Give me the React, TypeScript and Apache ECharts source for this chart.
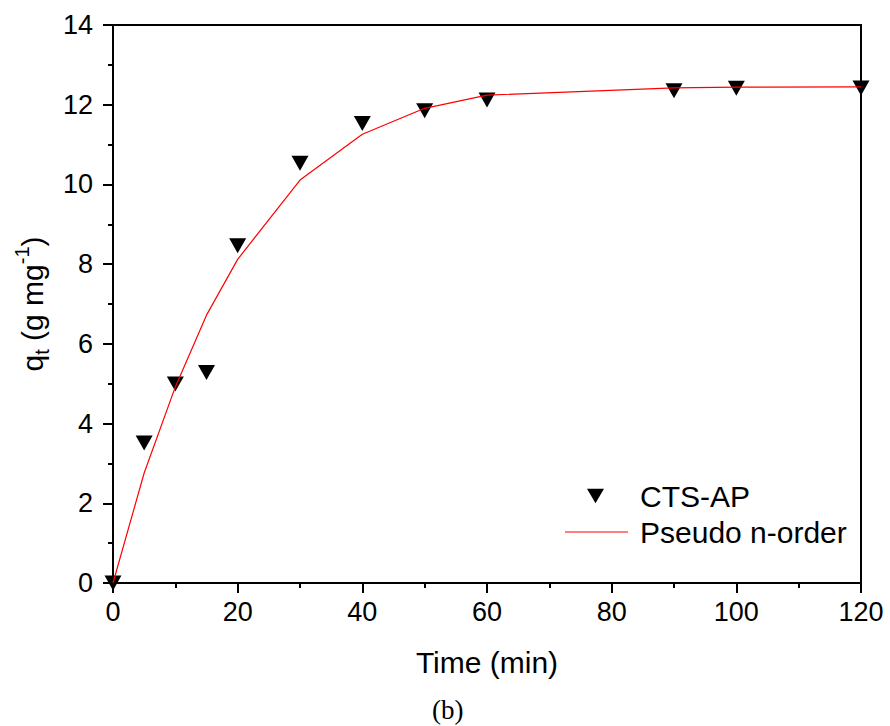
import React, { useEffect, useRef } from "react";
import * as echarts from "echarts";

const expTime = [0, 5, 10, 15, 20, 30, 40, 50, 60, 90, 100, 120];
const expQt = [0, 3.51, 4.99, 5.28, 8.46, 10.53, 11.53, 11.85, 12.12, 12.35, 12.41, 12.42];
const fitTime = [0, 5, 10, 15, 20, 30, 40, 50, 60, 90, 100, 120];
const fitQt = [0, 2.76, 4.92, 6.72, 8.12, 10.11, 11.26, 11.91, 12.24, 12.42, 12.44, 12.45];
const seriesNames = ["CTS-AP", "Pseudo n-order"];
const xTitle = "Time (min)";
const caption = "(b)";

const FONT = "'Liberation Sans', Arial, sans-serif";

export default function App() {
  const ref = useRef<HTMLDivElement>(null);
  useEffect(() => {
    if (!ref.current) return;
    const chart = echarts.init(ref.current, null, { renderer: "svg" });
    const triPath = "path://M0,0 L20,0 L10,17 Z";
    chart.setOption({
      animation: false,
      backgroundColor: "#ffffff",
      grid: {
        left: 113,
        right: 29,
        top: 25,
        bottom: 143,
        show: true,
        borderColor: "#000",
        borderWidth: 2,
        backgroundColor: "transparent",
      },
      legend: [
        {
          data: [{ name: seriesNames[0], icon: triPath }],
          left: 582,
          top: 476,
          itemWidth: 17,
          itemHeight: 15,
          itemStyle: { opacity: 1 },
          textStyle: { fontFamily: FONT, fontSize: 30, color: "#000", padding: [0, 0, 0, 31] },
        },
        {
          data: [{ name: seriesNames[1], icon: "rect" }],
          left: 560,
          top: 512,
          itemWidth: 63,
          itemHeight: 1.2,
          textStyle: { fontFamily: FONT, fontSize: 30, color: "#000", padding: [0, 0, 0, 7] },
        },
      ],
      xAxis: {
        type: "value",
        min: 0,
        max: 120,
        interval: 20,
        name: xTitle,
        nameLocation: "middle",
        nameGap: 64,
        nameTextStyle: { fontFamily: FONT, fontSize: 30, color: "#000" },
        axisLine: { show: true, onZero: false, lineStyle: { color: "#000", width: 2 } },
        axisTick: { show: true, inside: false, length: 10, lineStyle: { color: "#000", width: 2 } },
        minorTick: { show: true, splitNumber: 2, length: 5, lineStyle: { color: "#000", width: 2 } },
        axisLabel: { fontFamily: FONT, fontSize: 27, color: "#000", margin: 15 },
        splitLine: { show: false },
      },
      yAxis: {
        type: "value",
        min: 0,
        max: 14,
        interval: 2,
        name: "{a|q}{sub|t}{a| (g mg}{sup|-1}{a|)}",
        nameLocation: "middle",
        nameGap: 57,
        nameTextStyle: {
          fontFamily: FONT,
          color: "#000",
          rich: {
            a: { fontFamily: FONT, fontSize: 30, color: "#000", lineHeight: 40 },
            sub: { fontFamily: FONT, fontSize: 20, color: "#000", verticalAlign: "bottom", lineHeight: 14 },
            sup: { fontFamily: FONT, fontSize: 20, color: "#000", verticalAlign: "top", lineHeight: 14 },
          },
        },
        axisLine: { show: true, onZero: false, lineStyle: { color: "#000", width: 2 } },
        axisTick: { show: true, inside: false, length: 10, lineStyle: { color: "#000", width: 2 } },
        minorTick: { show: true, splitNumber: 2, length: 5, lineStyle: { color: "#000", width: 2 } },
        axisLabel: { fontFamily: FONT, fontSize: 27, color: "#000", margin: 20 },
        splitLine: { show: false },
      },
      series: [
        {
          name: seriesNames[0],
          type: "scatter",
          data: expTime.map((t, i) => [t, expQt[i]]),
          symbol: "triangle",
          symbolRotate: 180,
          symbolSize: [17, 15],
          itemStyle: { color: "#000", opacity: 1 },
          z: 3,
        },
        {
          name: seriesNames[1],
          type: "line",
          data: fitTime.map((t, i) => [t, fitQt[i]]),
          symbol: "none",
          showSymbol: false,
          lineStyle: { color: "#ff0000", width: 1.2 },
          itemStyle: { color: "#ff0000" },
          z: 4,
        },
      ],
      graphic: [
        {
          type: "text",
          left: 432,
          top: 696,
          style: {
            text: caption,
            fontFamily: "'Liberation Serif', 'Times New Roman', serif",
            fontSize: 27,
            fill: "#000",
          },
        },
      ],
    });
    return () => chart.dispose();
  }, []);
  return <div ref={ref} style={{ width: 890, height: 726, position: "absolute", left: 0, top: 0 }} />;
}
